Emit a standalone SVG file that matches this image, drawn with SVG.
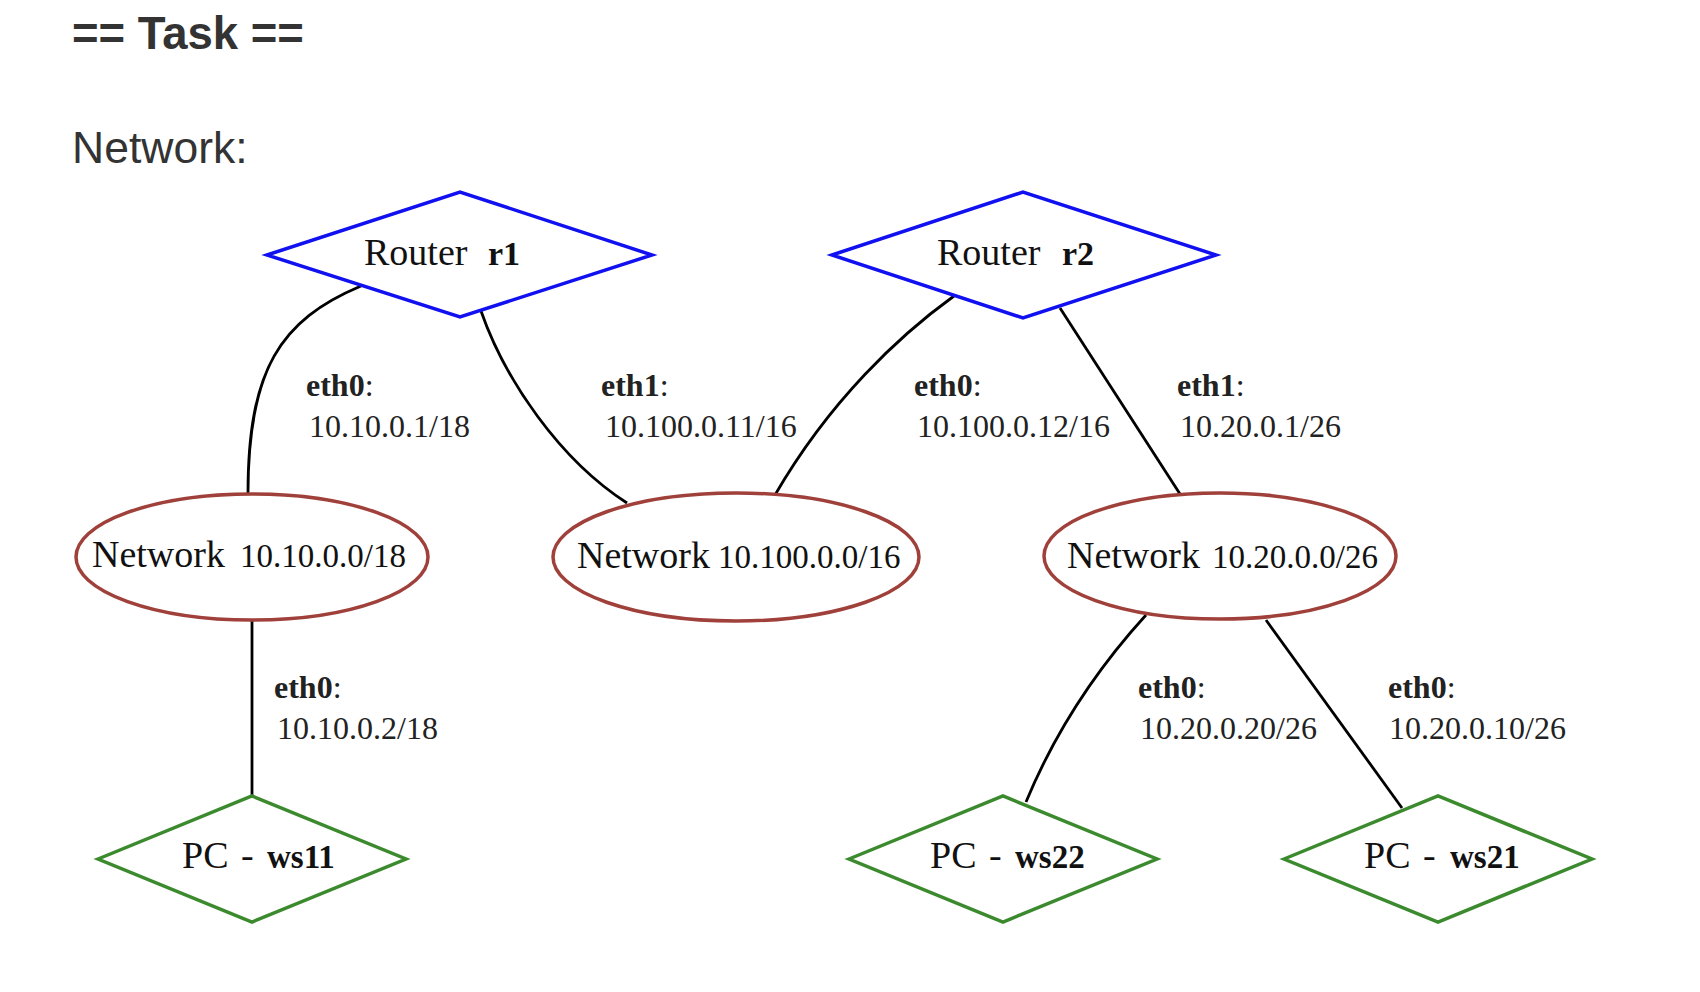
<svg xmlns="http://www.w3.org/2000/svg" width="1700" height="992" viewBox="0 0 1700 992">
<style>
.bg{fill:#ffffff}
.h{font-family:"Liberation Sans",Arial,sans-serif;fill:#333333}
.router{fill:none;stroke:#1010f0;stroke-width:3.5}
.net{fill:none;stroke:#a0403a;stroke-width:3.5}
.pc{fill:none;stroke:#3c8a2e;stroke-width:3.5}
.t{font-family:"Liberation Serif","Times New Roman",serif;fill:#111111}
.b{font-weight:bold}
.edge{fill:none;stroke:#000000;stroke-width:2.8}
.lbl{font-family:"Liberation Serif","Times New Roman",serif;font-size:32px;fill:#222222}
</style>
<rect class="bg" x="0" y="0" width="1700" height="992"/>
<text class="h" x="72" y="49" font-size="45.5" font-weight="bold">== Task ==</text>
<text class="h" x="72" y="163" font-size="44.5">Network:</text>

<g id="connectors">
  <path class="edge" d="M361,286 C280,320 248,370 248,493"/>
  <path class="edge" d="M481,311 C505,380 560,460 627,503"/>
  <path class="edge" d="M954,296 C900,335 830,400 775,495"/>
  <path class="edge" d="M1060,308 L1180,494"/>
  <path class="edge" d="M252,620 L252,796"/>
  <path class="edge" d="M1146,615 C1105,660 1060,720 1026,802"/>
  <path class="edge" d="M1266,620 L1402,808"/>
  <g class="lbl">
    <text x="306" y="396"><tspan class="b">eth0</tspan>:</text>
    <text x="309" y="437">10.10.0.1/18</text>
    <text x="601" y="396"><tspan class="b">eth1</tspan>:</text>
    <text x="605" y="437">10.100.0.11/16</text>
    <text x="914" y="396"><tspan class="b">eth0</tspan>:</text>
    <text x="917" y="437">10.100.0.12/16</text>
    <text x="1177" y="396"><tspan class="b">eth1</tspan>:</text>
    <text x="1180" y="437">10.20.0.1/26</text>
    <text x="274" y="698"><tspan class="b">eth0</tspan>:</text>
    <text x="277" y="739">10.10.0.2/18</text>
    <text x="1138" y="698"><tspan class="b">eth0</tspan>:</text>
    <text x="1140" y="739">10.20.0.20/26</text>
    <text x="1388" y="698"><tspan class="b">eth0</tspan>:</text>
    <text x="1389" y="739">10.20.0.10/26</text>
  </g>
</g>

<g id="r1">
  <polygon class="router" points="267,255 460,192 652,255 460,317"/>
  <text class="t" y="265"><tspan x="364" font-size="38">Router</tspan><tspan x="488" font-size="34" class="b">r1</tspan></text>
</g>
<g id="r2">
  <polygon class="router" points="832,255 1023,192 1216,255 1023,318"/>
  <text class="t" y="265"><tspan x="937" font-size="38">Router</tspan><tspan x="1062" font-size="34" class="b">r2</tspan></text>
</g>
<g id="net1">
  <ellipse class="net" cx="252" cy="557" rx="176" ry="63"/>
  <text class="t" y="567"><tspan x="92" font-size="38">Network</tspan><tspan x="240" font-size="33">10.10.0.0/18</tspan></text>
</g>
<g id="net2">
  <ellipse class="net" cx="736" cy="557" rx="183" ry="64"/>
  <text class="t" y="568"><tspan x="577" font-size="38">Network</tspan><tspan x="718" font-size="33">10.100.0.0/16</tspan></text>
</g>
<g id="net3">
  <ellipse class="net" cx="1220" cy="556" rx="176" ry="63"/>
  <text class="t" y="568"><tspan x="1067" font-size="38">Network</tspan><tspan x="1212" font-size="33">10.20.0.0/26</tspan></text>
</g>
<g id="ws11">
  <polygon class="pc" points="98,859 252,796 406,859 252,922"/>
  <text class="t" y="868"><tspan x="182" font-size="38">PC</tspan><tspan x="241" font-size="38">-</tspan><tspan x="267" font-size="33" class="b">ws11</tspan></text>
</g>
<g id="ws22">
  <polygon class="pc" points="849,859 1003,796 1157,859 1003,922"/>
  <text class="t" y="868"><tspan x="930" font-size="38">PC</tspan><tspan x="989" font-size="38">-</tspan><tspan x="1015" font-size="33" class="b">ws22</tspan></text>
</g>
<g id="ws21">
  <polygon class="pc" points="1284,859 1438,796 1592,859 1438,922"/>
  <text class="t" y="868"><tspan x="1364" font-size="38">PC</tspan><tspan x="1423" font-size="38">-</tspan><tspan x="1450" font-size="33" class="b">ws21</tspan></text>
</g>
</svg>
